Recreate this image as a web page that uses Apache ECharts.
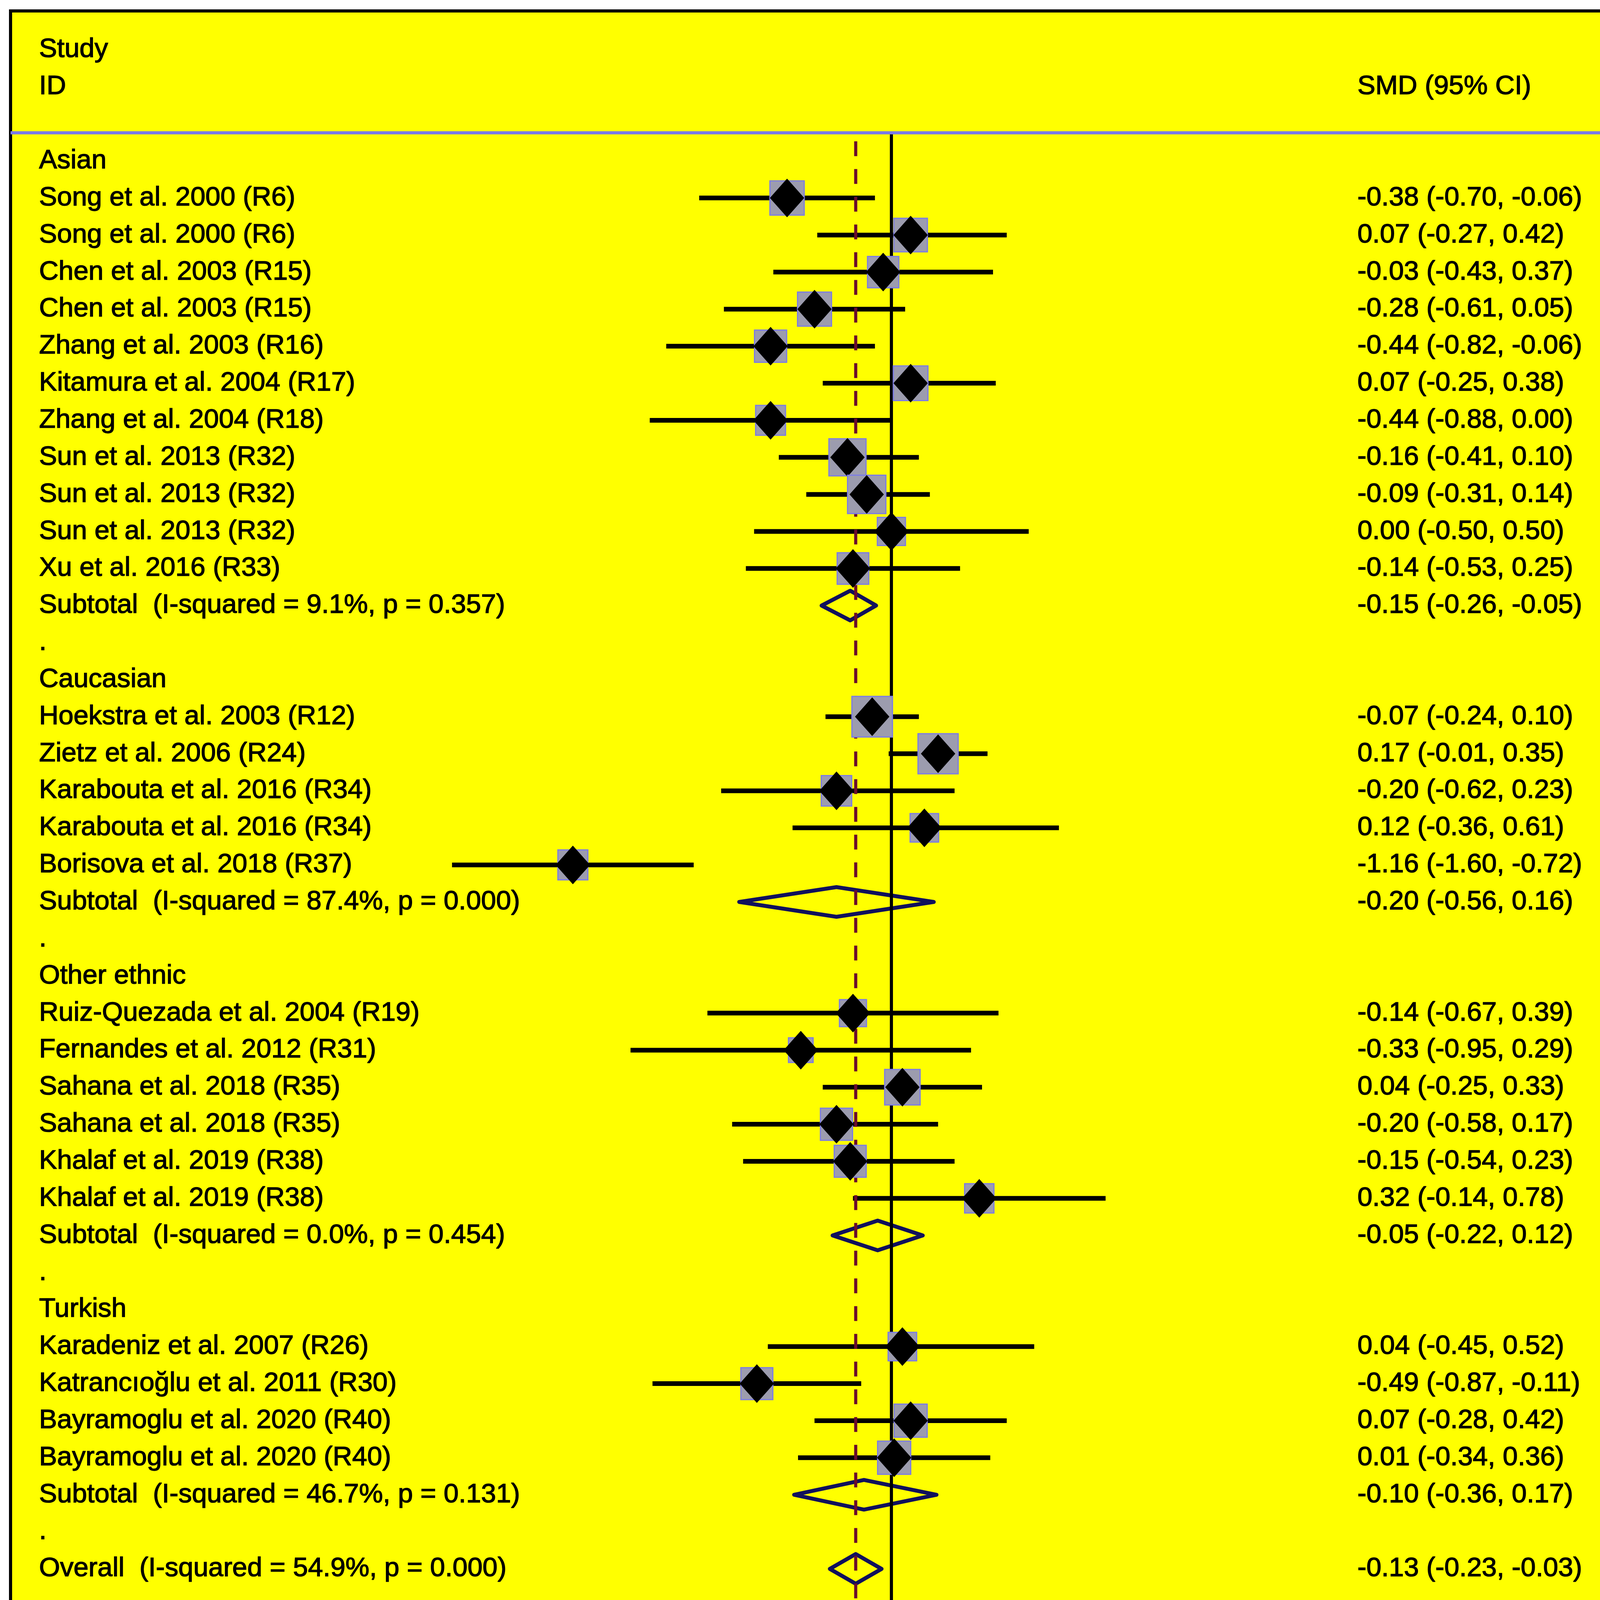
<!DOCTYPE html>
<html>
<head>
<meta charset="utf-8">
<script src="https://cdn.jsdelivr.net/npm/echarts@6.0.0/dist/echarts.min.js"></script>
<style>
html, body { margin: 0; padding: 0; background: #ffffff; }
#chart { width: 4550px; height: 4237px; }
</style>
</head>
<body>
<div id="chart"></div>
<script>
// ---------------- DATA ----------------
const rowLabels = [
  "Asian",
  "Song et al. 2000 (R6)",
  "Song et al. 2000 (R6)",
  "Chen et al. 2003 (R15)",
  "Chen et al. 2003 (R15)",
  "Zhang et al. 2003 (R16)",
  "Kitamura et al. 2004 (R17)",
  "Zhang et al. 2004 (R18)",
  "Sun et al. 2013 (R32)",
  "Sun et al. 2013 (R32)",
  "Sun et al. 2013 (R32)",
  "Xu et al. 2016 (R33)",
  "Subtotal  (I-squared = 9.1%, p = 0.357)",
  ".",
  "Caucasian",
  "Hoekstra et al. 2003 (R12)",
  "Zietz et al. 2006 (R24)",
  "Karabouta et al. 2016 (R34)",
  "Karabouta et al. 2016 (R34)",
  "Borisova et al. 2018 (R37)",
  "Subtotal  (I-squared = 87.4%, p = 0.000)",
  ".",
  "Other ethnic",
  "Ruiz-Quezada et al. 2004 (R19)",
  "Fernandes et al. 2012 (R31)",
  "Sahana et al. 2018 (R35)",
  "Sahana et al. 2018 (R35)",
  "Khalaf et al. 2019 (R38)",
  "Khalaf et al. 2019 (R38)",
  "Subtotal  (I-squared = 0.0%, p = 0.454)",
  ".",
  "Turkish",
  "Karadeniz et al. 2007 (R26)",
  "Katrancıoğlu et al. 2011 (R30)",
  "Bayramoglu et al. 2020 (R40)",
  "Bayramoglu et al. 2020 (R40)",
  "Subtotal  (I-squared = 46.7%, p = 0.131)",
  ".",
  "Overall  (I-squared = 54.9%, p = 0.000)"
];
const rowKinds = [
  "group","study","study","study","study","study","study","study","study","study","study","study","pooled","gap",
  "group","study","study","study","study","study","pooled","gap",
  "group","study","study","study","study","study","study","pooled","gap",
  "group","study","study","study","study","pooled","gap",
  "overall"
];
const smd = [
  null,-0.38,0.07,-0.03,-0.28,-0.44,0.07,-0.44,-0.16,-0.09,0.00,-0.14,-0.15,null,
  null,-0.07,0.17,-0.20,0.12,-1.16,-0.20,null,
  null,-0.14,-0.33,0.04,-0.20,-0.15,0.32,-0.05,null,
  null,0.04,-0.49,0.07,0.01,-0.10,null,
  -0.13
];
const ciLow = [
  null,-0.70,-0.27,-0.43,-0.61,-0.82,-0.25,-0.88,-0.41,-0.31,-0.50,-0.53,-0.26,null,
  null,-0.24,-0.01,-0.62,-0.36,-1.60,-0.56,null,
  null,-0.67,-0.95,-0.25,-0.58,-0.54,-0.14,-0.22,null,
  null,-0.45,-0.87,-0.28,-0.34,-0.36,null,
  -0.23
];
const ciHigh = [
  null,-0.06,0.42,0.37,0.05,-0.06,0.38,0.00,0.10,0.14,0.50,0.25,-0.05,null,
  null,0.10,0.35,0.23,0.61,-0.72,0.16,null,
  null,0.39,0.29,0.33,0.17,0.23,0.78,0.12,null,
  null,0.52,-0.11,0.42,0.36,0.17,null,
  -0.03
];
const weights = [
  null,4.32,4.10,3.49,4.23,3.71,4.42,3.13,5.18,5.57,2.70,3.56,44.41,null,
  null,6.34,6.20,3.26,2.79,3.15,21.74,null,
  null,2.46,1.96,4.66,3.71,3.66,2.98,19.44,null,
  null,2.80,3.66,3.98,3.98,14.42,null,
  100.00
];
const headerStudy = ["Study", "ID"];
const headerEffect = "SMD (95% CI)";
const headerWeight = ["%", "Weight"];
const noteText = "NOTE: Weights are from random effects analysis";
const nullEffect = 0;

// ---------------- LAYOUT / STYLE ----------------
const FONT = "'Liberation Sans', Arial, Helvetica, sans-serif";
const FONT_SIZE = 69;
const COL_LABEL = 100, COL_EFFECT = 3475, COL_WEIGHT = 4183;
const Y_MIN = -4.0485, Y_MAX = 39.979;
const X_MIN = -3.2077, X_MAX = 3.1764;
const HEADER_RULE_ROW = -0.76;
const DASH_TOP_ROW = -0.53;
const NOTE_ROW = 39.5;

const fmt = v => v.toFixed(2);

// text items built from the arrays
const textItems = [];
textItems.push({ row: -3, col: COL_LABEL, text: headerStudy[0] });
textItems.push({ row: -2, col: COL_LABEL, text: headerStudy[1] });
textItems.push({ row: -2, col: COL_EFFECT, text: headerEffect });
textItems.push({ row: -3, col: COL_WEIGHT, text: headerWeight[0] });
textItems.push({ row: -2, col: COL_WEIGHT, text: headerWeight[1] });
rowLabels.forEach((t, i) => {
  textItems.push({ row: i, col: COL_LABEL, text: t });
  if (smd[i] !== null) {
    textItems.push({ row: i, col: COL_EFFECT, text: fmt(smd[i]) + " (" + fmt(ciLow[i]) + ", " + fmt(ciHigh[i]) + ")" });
    textItems.push({ row: i, col: COL_WEIGHT, text: fmt(weights[i]) });
  }
});
textItems.push({ row: NOTE_ROW, col: COL_LABEL, text: noteText });

const rowIdx = rowKinds.map((k, i) => i);
const studyRows = rowIdx.filter(i => rowKinds[i] === "study");
const pooledRows = rowIdx.filter(i => rowKinds[i] === "pooled" || rowKinds[i] === "overall");
const overallRow = rowKinds.indexOf("overall");

const boxSide = w => 12 + 36.5 * Math.sqrt(w);

const chart = echarts.init(document.getElementById("chart"), null, { renderer: "canvas" });

const option = {
  animation: false,
  backgroundColor: "#ffffff",
  grid: {
    show: true, left: 27, right: 35, top: 28, bottom: 33,
    backgroundColor: "#FFFF00", borderColor: "#000000", borderWidth: 8
  },
  xAxis: {
    type: "value", min: X_MIN, max: X_MAX,
    axisLine: { show: false }, axisTick: { show: false }, axisLabel: { show: false }, splitLine: { show: false }
  },
  yAxis: {
    type: "value", min: Y_MIN, max: Y_MAX, inverse: true,
    axisLine: { show: false }, axisTick: { show: false }, axisLabel: { show: false }, splitLine: { show: false }
  },
  series: [
    // confidence interval lines
    {
      type: "custom", z: 2, silent: true,
      data: studyRows.map(i => [smd[i], i, ciLow[i], ciHigh[i]]),
      renderItem: (params, api) => {
        const r = api.value(1);
        const p0 = api.coord([api.value(2), r]);
        const p1 = api.coord([api.value(3), r]);
        return { type: "line", shape: { x1: p0[0], y1: p0[1], x2: p1[0], y2: p1[1] },
                 style: { stroke: "#000000", lineWidth: 12, lineCap: "butt" } };
      }
    },
    // pooled (subtotal / overall) hollow diamonds
    {
      type: "custom", z: 2, silent: true,
      data: pooledRows.map(i => [smd[i], i, ciLow[i], ciHigh[i]]),
      renderItem: (params, api) => {
        const r = api.value(1);
        const c = api.coord([api.value(0), r]);
        const l = api.coord([api.value(2), r]);
        const h = api.coord([api.value(3), r]);
        const hh = 38;
        return { type: "polygon",
                 shape: { points: [[l[0] + 4, c[1]], [c[0], c[1] - hh], [h[0] - 4, c[1]], [c[0], c[1] + hh]] },
                 style: { fill: null, stroke: "#10105C", lineWidth: 10, lineJoin: "round" } };
      }
    },
    // reference lines: null effect (solid) and overall effect (dashed)
    {
      type: "custom", z: 3, silent: true,
      data: [[nullEffect, HEADER_RULE_ROW, Y_MAX, 0], [smd[overallRow], DASH_TOP_ROW, Y_MAX, 1]],
      renderItem: (params, api) => {
        const p0 = api.coord([api.value(0), api.value(1)]);
        const p1 = api.coord([api.value(0), api.value(2)]);
        const dashed = api.value(3) === 1;
        return { type: "line", shape: { x1: p0[0], y1: p0[1], x2: p1[0], y2: p1[1] },
                 style: dashed
                   ? { stroke: "#6A0C2C", lineWidth: 8, lineDash: [38, 33], lineCap: "butt" }
                   : { stroke: "#000000", lineWidth: 8 } };
      }
    },
    // weight boxes and point-estimate diamonds
    {
      type: "custom", z: 4, silent: true,
      data: studyRows.map(i => [smd[i], i, weights[i]]),
      renderItem: (params, api) => {
        const c = api.coord([api.value(0), api.value(1)]);
        const s = boxSide(api.value(2));
        const dw = 44, dh = 49.5;
        return { type: "group", children: [
          { type: "rect", shape: { x: c[0] - s / 2, y: c[1] - s / 2, width: s, height: s },
            style: { fill: "#9C9CAE", stroke: "#7C7CE4", lineWidth: 3 } },
          { type: "polygon", shape: { points: [[c[0] - dw, c[1]], [c[0], c[1] - dh], [c[0] + dw, c[1]], [c[0], c[1] + dh]] },
            style: { fill: "#000000" } }
        ] };
      }
    },
    // all text
    {
      type: "custom", z: 5, silent: true,
      data: textItems.map(t => [0, t.row]),
      renderItem: (params, api) => {
        const item = textItems[params.dataIndex];
        const y = api.coord([0, api.value(1)])[1];
        return { type: "text", x: item.col, y: y,
                 style: { text: item.text, fill: "#000000", stroke: "#000000", lineWidth: 1.6,
                          fontSize: FONT_SIZE, fontFamily: FONT,
                          align: "left", verticalAlign: "middle" } };
      },
      markLine: {
        silent: true, symbol: "none", animation: false,
        label: { show: false },
        lineStyle: { color: "#7B7BE6", width: 8, type: "solid" },
        data: [{ yAxis: HEADER_RULE_ROW }]
      }
    }
  ]
};
chart.setOption(option);
</script>
</body>
</html>
